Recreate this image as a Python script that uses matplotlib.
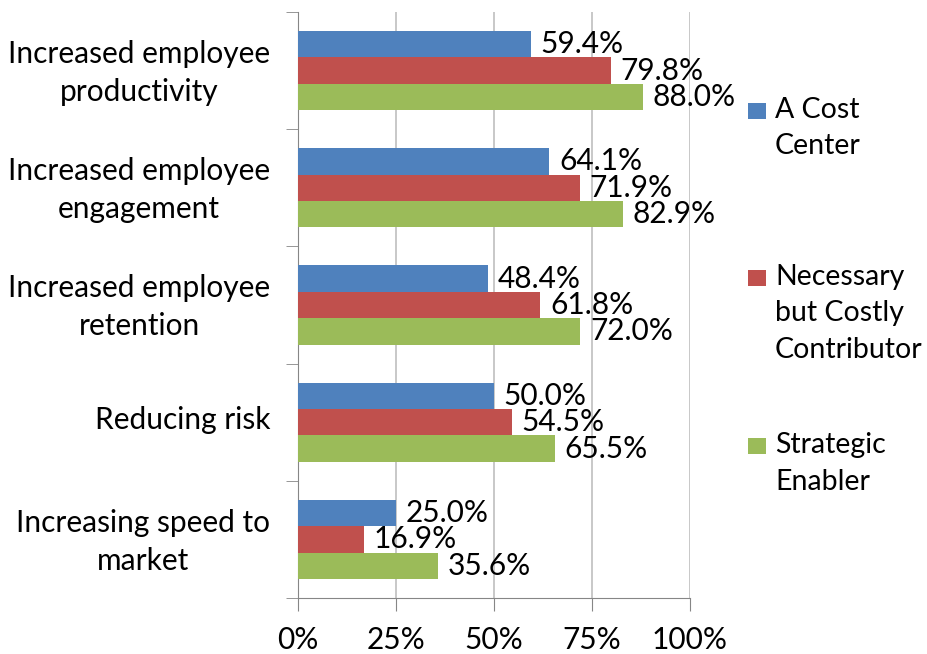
import matplotlib.pyplot as plt
import matplotlib.transforms as mtransforms
from matplotlib.patches import Rectangle
import numpy as np

categories = [
    "Increased employee\nproductivity",
    "Increased employee\nengagement",
    "Increased employee\nretention",
    "Reducing risk",
    "Increasing speed to\nmarket",
]
series_names = ["A Cost\nCenter", "Necessary\nbut Costly\nContributor", "Strategic\nEnabler"]
cost_center = [59.4, 64.1, 48.4, 50.0, 25.0]
necessary = [79.8, 71.9, 61.8, 54.5, 16.9]
strategic = [88.0, 82.9, 72.0, 65.5, 35.6]
colors = ["#4F81BD", "#C0504D", "#9BBB59"]
x_ticks = [0, 25, 50, 75, 100]

plt.rcParams["font.family"] = ["Lato", "DejaVu Sans"]
fs = 21.5

fig = plt.figure(figsize=(9.28, 6.54), dpi=100)
ax = fig.add_axes([298 / 928, 1 - 598 / 654, 392 / 928, 586 / 654])

y = np.arange(len(categories))
h = 0.225
for i, vals in enumerate([cost_center, necessary, strategic]):
    pos = y + (i - 1) * h
    ax.barh(pos, vals, height=h, color=colors[i], zorder=3)
    for p, v in zip(pos, vals):
        ax.annotate(f"{v:.1f}%", (v, p), xytext=(7, 0), textcoords="offset points",
                    va="center", ha="left", fontsize=fs, zorder=4)

ax.set_xlim(0, 100)
ax.set_ylim(len(categories) - 0.5, -0.5)
ax.set_xticks(x_ticks)
ax.set_xticklabels([f"{t}%" for t in x_ticks], fontsize=fs)
ax.tick_params(axis="x", length=9, color="#868686", pad=11)

ax.set_yticks(y)
ax.set_yticklabels(categories, fontsize=fs, multialignment="center", linespacing=1.42)
ax.set_yticks(np.arange(len(categories) + 1) - 0.5, minor=True)
ax.tick_params(axis="y", which="major", length=0, pad=20)
ax.tick_params(axis="y", which="minor", length=9, color="#868686")

# nudge category labels up a little
shift = mtransforms.ScaledTranslation(0, 5 / 100, fig.dpi_scale_trans)
for lbl in ax.get_yticklabels():
    lbl.set_transform(lbl.get_transform() + shift)

ax.grid(axis="x", color="#BFBFBF", linewidth=1.2, zorder=0)
for s in ["top", "right"]:
    ax.spines[s].set_visible(False)
ax.spines["left"].set_color("#868686")
ax.spines["bottom"].set_color("#868686")

# legend drawn by hand, entries spaced evenly like the original
leg_tops = [103, 270, 438]
for name, c, top in zip(series_names, colors, leg_tops):
    fig.patches.append(Rectangle((748 / 928, 1 - (top + 16) / 654), 18 / 928, 16 / 654,
                                 transform=fig.transFigure, facecolor=c, edgecolor="none"))
    fig.text(775 / 928, 1 - (top - 6) / 654, name, fontsize=20.5, va="top", ha="left",
             linespacing=1.5)

fig.savefig("out.png", dpi=100)
